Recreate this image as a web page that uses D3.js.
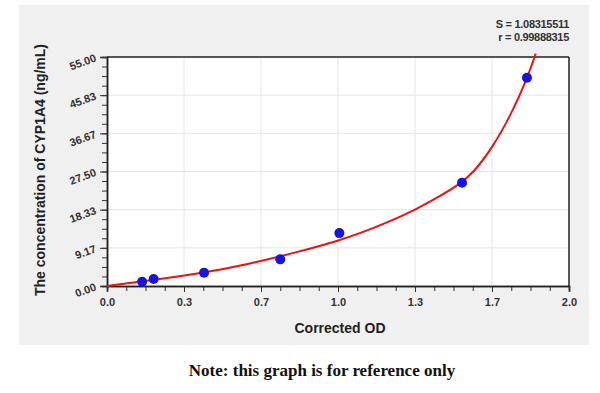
<!DOCTYPE html>
<html><head><meta charset="utf-8">
<script src="https://cdn.jsdelivr.net/npm/d3@7"></script>
<style>body{margin:0;background:#fff}svg{display:block}</style>
</head><body>
<script>
const xTicks = [0, 1/3, 2/3, 1, 4/3, 5/3, 2];
const xTickLabels = ["0.0","0.3","0.7","1.0","1.3","1.7","2.0"];
const yTicks = [0, 55/6, 110/6, 27.5, 220/6, 275/6, 55];
const yTickLabels = ["0.00","9.17","18.33","27.50","36.67","45.83","55.00"];
const pointsX = [0.152, 0.202, 0.42, 0.75, 1.006, 1.537, 1.818];
const pointsY = [1.0, 1.7, 3.2, 6.4, 12.7, 24.8, 50.0];
const curveX = [0, 0.186, 0.403, 0.619, 0.835, 1.009, 1.095, 1.211, 1.333, 1.442, 1.528, 1.586, 1.672, 1.752, 1.817, 1.856];
const curveY = [0, 1.3, 3.0, 5.3, 8.3, 11.0, 12.66, 15.2, 18.25, 21.6, 24.5, 27.2, 33.5, 41.5, 49.6, 55.8];
const statLines = ["S = 1.08315511", "r = 0.99888315"];

const W = 600, H = 393;
const svg = d3.select("body").append("svg").attr("width", W).attr("height", H);
svg.append("rect").attr("width", W).attr("height", H).attr("fill", "#fff");
svg.append("rect").attr("x", 19).attr("y", 5).attr("width", 570).attr("height", 340).attr("fill", "#f0f0f0");

const L = 107, R = 569, T = 57, B = 286;
const x = d3.scaleLinear().domain([0, 2]).range([L, R]);
const y = d3.scaleLinear().domain([0, 55]).range([B, T]);

svg.append("rect").attr("x", L).attr("y", T).attr("width", R - L).attr("height", B - T).attr("fill", "#fff");

// grid
const g = svg.append("g");
g.selectAll(".vg").data(xTicks.slice(1, -1)).join("line")
  .attr("x1", d => x(d)).attr("x2", d => x(d)).attr("y1", T).attr("y2", B)
  .attr("stroke", "#e6e6e6").attr("stroke-width", 1);
g.selectAll(".hg").data(yTicks.slice(1, -1)).join("line")
  .attr("x1", L).attr("x2", R).attr("y1", d => y(d)).attr("y2", d => y(d))
  .attr("stroke", "#e6e6e6").attr("stroke-width", 1);

// minor ticks
const xMinor = d3.range(0, 25).map(i => i / 12);
const yMinor = d3.range(0, 25).map(i => i * 55 / 24);

const xAxis = svg.append("g").attr("transform", `translate(0,${B})`)
  .call(d3.axisBottom(x).tickValues(xMinor).tickSize(5).tickFormat(""));
const xAxisMaj = svg.append("g").attr("transform", `translate(0,${B})`)
  .call(d3.axisBottom(x).tickValues(xTicks).tickSize(6).tickPadding(6)
    .tickFormat((d, i) => xTickLabels[i]));
const yAxis = svg.append("g").attr("transform", `translate(${L},0)`)
  .call(d3.axisLeft(y).tickValues(yMinor).tickSize(5).tickFormat(""));
const yAxisMaj = svg.append("g").attr("transform", `translate(${L},0)`)
  .call(d3.axisLeft(y).tickValues(yTicks).tickSize(7).tickFormat(""));

[xAxis, xAxisMaj, yAxis, yAxisMaj].forEach(a => {
  a.select(".domain").attr("stroke", "#222").attr("stroke-width", 1.5);
  a.selectAll(".tick line").attr("stroke", "#333").attr("stroke-width", 1);
});
xAxisMaj.selectAll("text").attr("font-family", "Arial, 'Liberation Sans', sans-serif")
  .attr("font-size", 11).attr("font-weight", "bold").attr("fill", "#333");

// y tick labels rotated
svg.append("g").selectAll("text").data(yTicks).join("text")
  .attr("transform", d => `translate(${L - 10},${y(d) + 4}) rotate(-20)`)
  .attr("text-anchor", "end")
  .attr("font-family", "Arial, 'Liberation Sans', sans-serif")
  .attr("font-size", 11).attr("font-weight", "bold").attr("fill", "#333")
  .text((d, i) => yTickLabels[i]);

// box top/right
svg.append("line").attr("x1", L).attr("x2", R).attr("y1", T).attr("y2", T).attr("stroke", "#222").attr("stroke-width", 1.5);
svg.append("line").attr("x1", R).attr("x2", R).attr("y1", T).attr("y2", B).attr("stroke", "#222").attr("stroke-width", 1.5);

// curve
const curveData = curveX.map((d, i) => [d, curveY[i]]);
svg.append("path").datum(curveData)
  .attr("d", d3.line().x(d => x(d[0])).y(d => y(d[1])).curve(d3.curveBasis))
  .attr("fill", "none").attr("stroke", "#ee1111").attr("stroke-width", 2);

// points
svg.append("g").selectAll("circle").data(pointsX.map((d, i) => [d, pointsY[i]])).join("circle")
  .attr("cx", d => x(d[0])).attr("cy", d => y(d[1])).attr("r", 5).attr("fill", "#1414e6");

// stats
svg.append("g").selectAll("text").data(statLines).join("text")
  .attr("x", R).attr("y", (d, i) => 28 + i * 13)
  .attr("text-anchor", "end")
  .attr("font-family", "Arial, 'Liberation Sans', sans-serif")
  .attr("font-size", 11).attr("font-weight", "bold").attr("fill", "#333")
  .attr("letter-spacing", -0.3)
  .text(d => d);

// axis titles
svg.append("text").attr("x", 340).attr("y", 333).attr("text-anchor", "middle")
  .attr("font-family", "Arial, 'Liberation Sans', sans-serif")
  .attr("font-size", 14).attr("font-weight", "bold").attr("fill", "#222")
  .text("Corrected OD");
svg.append("text").attr("transform", "translate(45,170) rotate(-90)").attr("text-anchor", "middle")
  .attr("font-family", "Arial, 'Liberation Sans', sans-serif")
  .attr("font-size", 14).attr("font-weight", "bold").attr("fill", "#222")
  .text("The concentration of CYP1A4 (ng/mL)");

// note
svg.append("text").attr("x", 322).attr("y", 376).attr("text-anchor", "middle")
  .attr("font-family", "'Liberation Serif', 'DejaVu Serif', serif")
  .attr("font-size", 17).attr("font-weight", "bold").attr("fill", "#111")
  .text("Note: this graph is for reference only");
</script>
</body></html>
